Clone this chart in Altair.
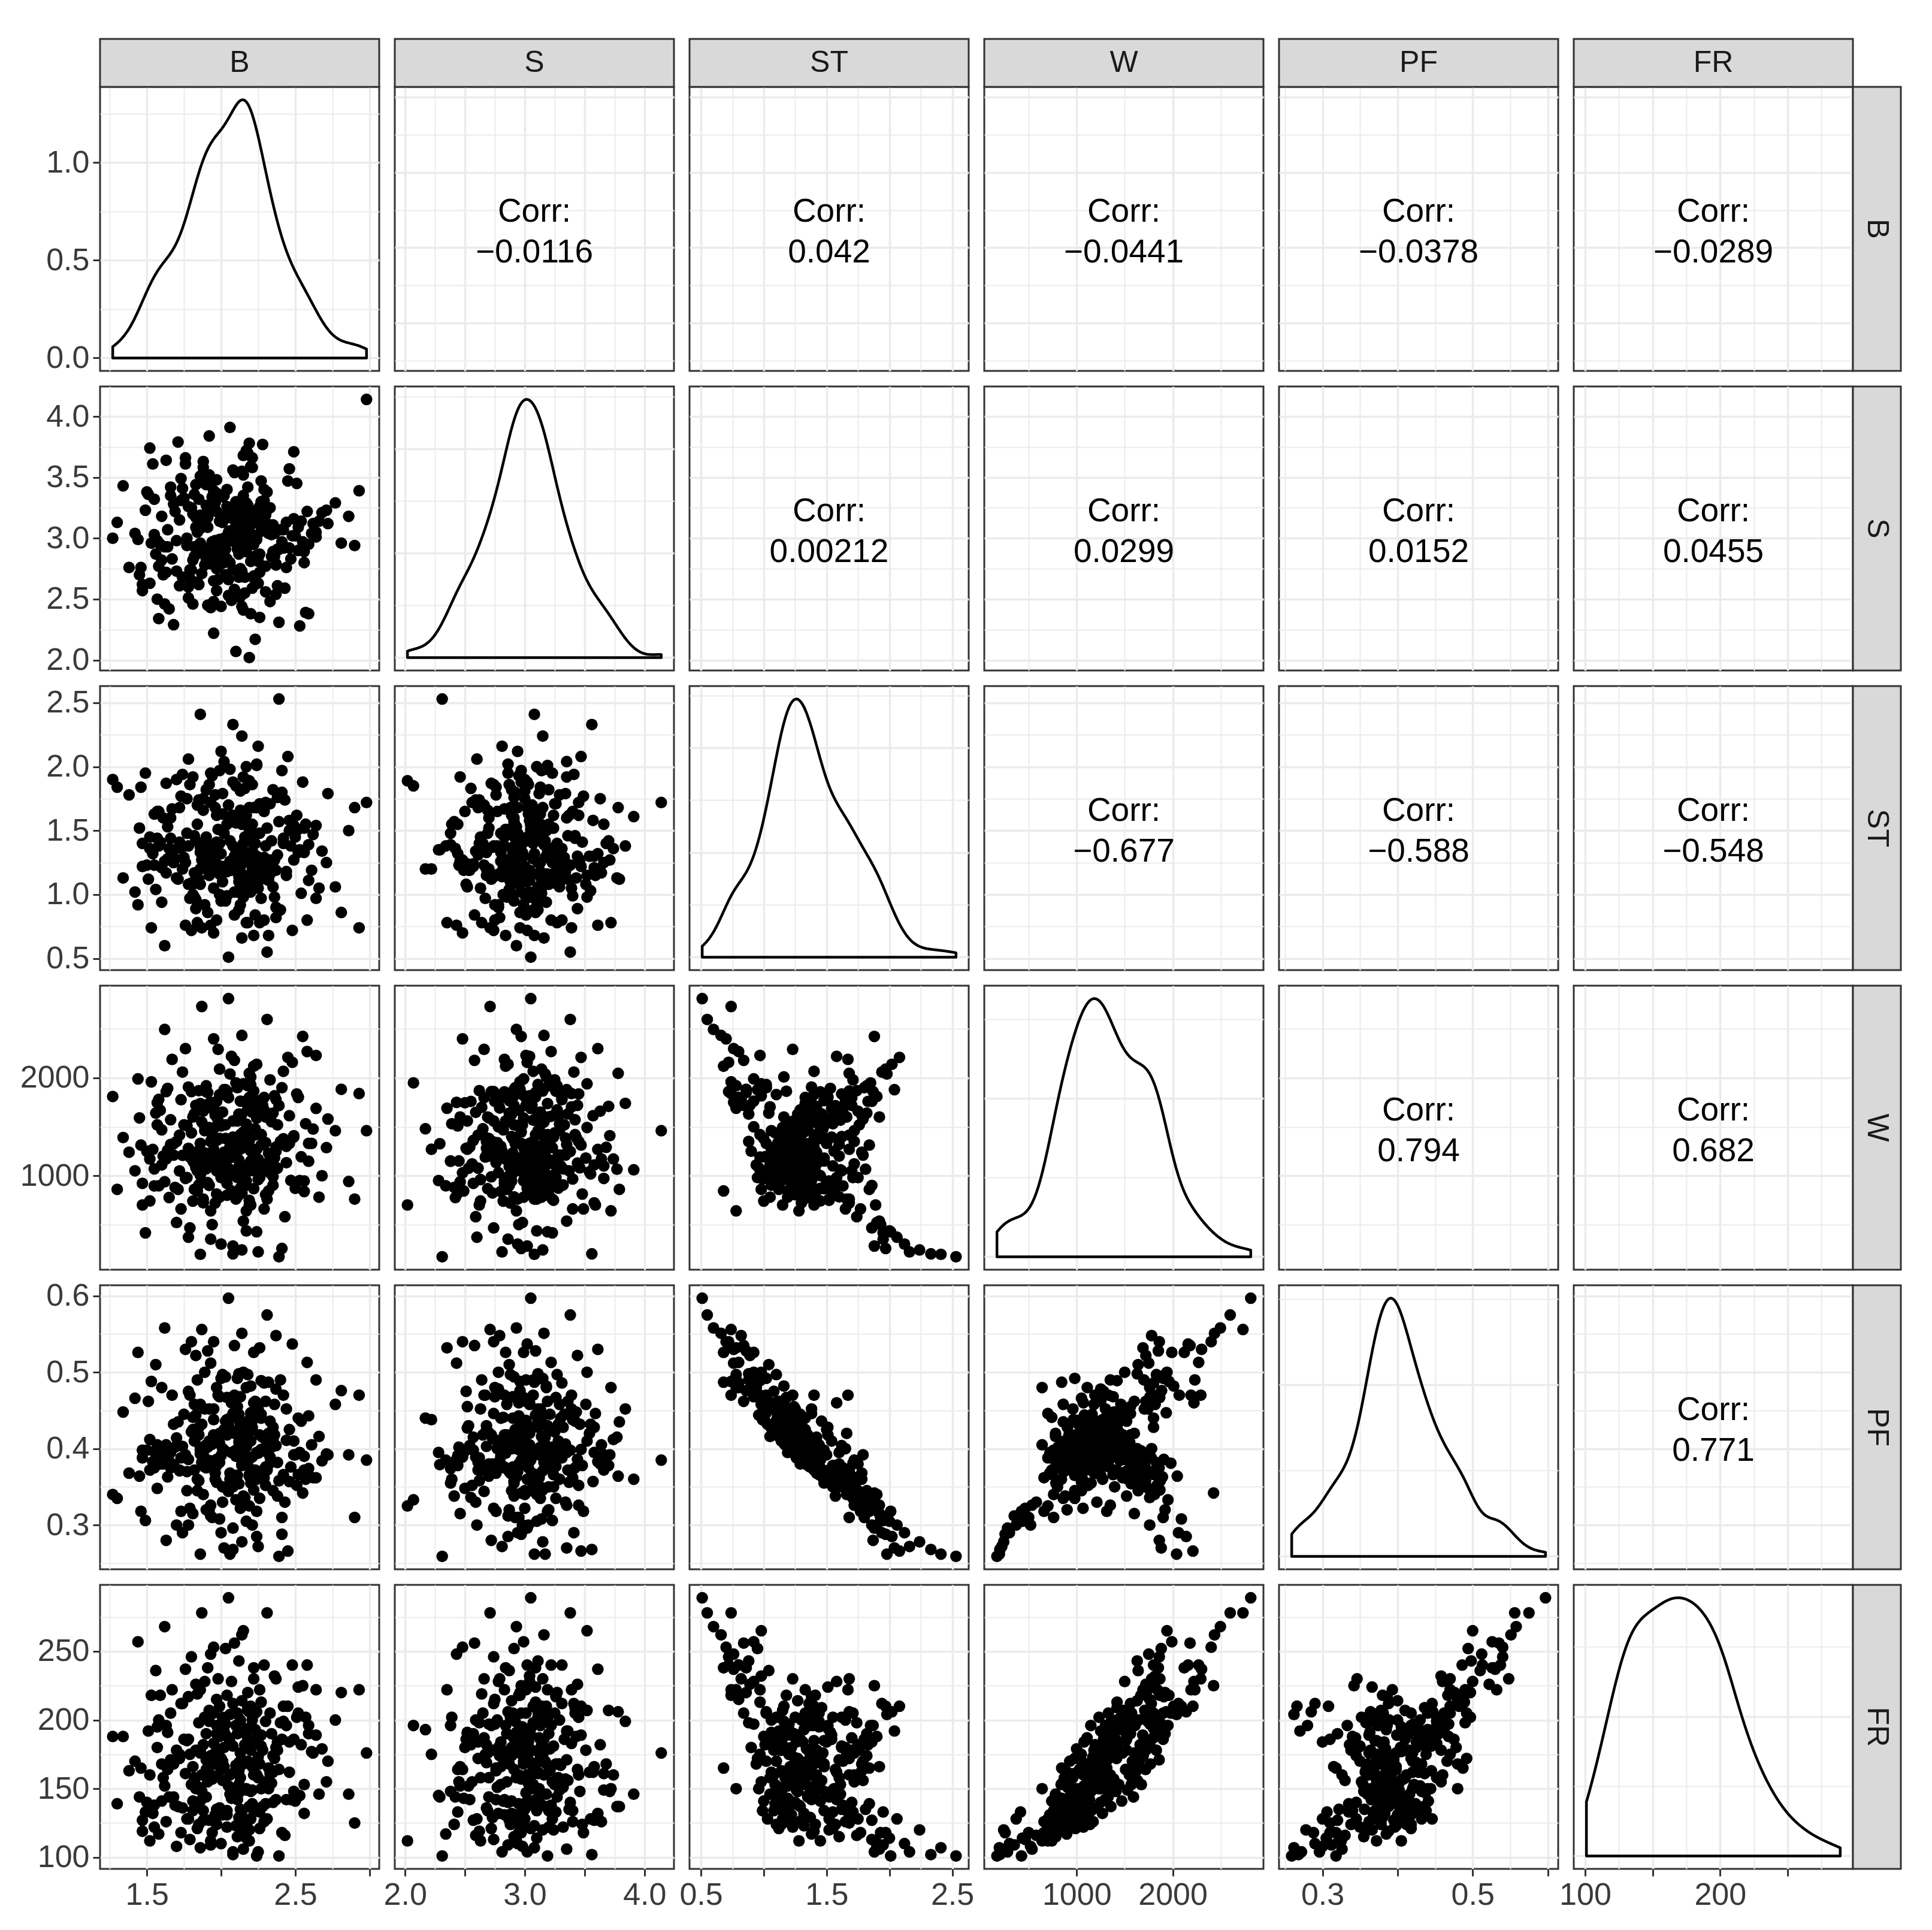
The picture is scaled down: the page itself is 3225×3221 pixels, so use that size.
import json
import math
import altair as alt
import numpy as np
import pandas as pd

VARS = ["B", "S", "ST", "W", "PF", "FR"]

B = [2.05, 1.87, 2.31, 1.62, 2.14, 1.95, 2.48, 2.22, 1.76, 2.58,
     1.53, 2.18, 2.09, 1.91, 2.37, 1.83, 2.26, 2.64, 2.11, 2.01,
     2.20, 1.98, 1.44, 2.15, 2.03, 2.42, 1.80, 2.29, 1.93, 2.12,
     1.67, 2.07, 2.33, 1.85, 2.19, 2.55, 1.99, 2.24, 1.74, 2.10,
     1.27, 2.16, 1.90, 2.41, 2.02, 1.58, 2.28, 1.88, 2.13, 2.72,
     1.96, 2.35, 1.81, 2.21, 2.06, 1.63, 2.45, 1.94, 2.17, 1.78,
     2.00, 1.49, 2.25, 2.08, 1.86, 2.39, 2.14, 1.70, 2.93, 1.97,
     2.23, 1.84, 2.04, 2.52, 1.92, 2.19, 1.56, 2.30, 2.11, 1.75,
     1.89, 2.27, 2.09, 1.34, 2.16, 2.44, 1.95, 2.02, 1.68, 2.36,
     2.12, 1.82, 2.21, 1.97, 2.61, 2.06, 1.51, 2.33, 1.91, 2.18,
     1.64, 2.03, 2.27, 1.86, 2.15, 1.98, 2.49, 1.72, 2.24, 2.08,
     2.38, 1.93, 1.46, 2.10, 2.20, 1.84, 2.56, 2.01, 2.13, 1.79,
     1.60, 2.22, 2.05, 1.90, 2.32, 2.17, 1.81, 2.66, 1.99, 2.07,
     2.14, 1.55, 2.29, 1.96, 2.04, 2.43, 1.88, 2.19, 1.73, 2.90,
     1.30, 2.25, 2.12, 1.85, 2.35, 2.09, 1.94, 2.53, 1.69, 2.16,
     2.02, 1.83, 2.46, 2.21, 1.61, 2.11, 1.97, 2.30, 1.77, 2.06,
     2.26, 1.92, 2.15, 1.42, 2.00, 2.37, 1.86, 2.59, 2.13, 1.95,
     1.57, 2.18, 2.08, 1.89, 2.23, 2.77, 1.99, 2.40, 1.71, 2.04,
     2.10, 1.47, 2.31, 1.93, 2.20, 1.82, 2.50, 2.14, 1.66, 2.98,
     1.38, 2.27, 2.03, 1.87, 2.12, 2.34, 1.78, 2.86, 2.17, 1.52,
     2.08, 1.93, 2.24, 1.79, 2.15, 2.41, 1.88, 1.52, 2.19, 1.65,
     2.11, 2.30, 1.97, 2.56, 1.84, 2.22, 2.13, 1.58, 2.35, 1.47,
     1.91, 2.17, 2.47, 2.04, 1.76, 2.26, 2.68, 1.86, 2.14, 2.33,
     1.99, 1.72, 2.21, 1.55, 2.38, 1.83, 2.12, 1.95, 2.28, 1.62,
     2.18, 2.01, 1.90, 2.44, 2.59, 1.81, 2.25, 1.63, 1.96, 2.54,
     1.74, 2.10, 2.32, 1.89, 1.50, 2.20, 1.54, 2.13, 2.71, 2.37,
     2.06, 1.85, 2.27, 1.68, 1.70, 2.19, 2.42, 1.94, 2.49, 2.23,
     1.80, 2.15, 1.60, 2.62, 1.92, 2.30, 2.00, 1.77, 2.17, 2.57,
     1.87, 2.34, 2.12, 1.66, 2.24, 1.45, 1.97, 2.46, 2.14, 1.82,
     2.21, 2.01, 1.59, 2.29, 2.64, 1.93, 2.18, 2.39, 1.86, 1.57,
     2.26, 1.73, 2.05, 2.52, 1.99, 2.51, 1.90, 2.22, 1.64, 1.78,
     2.13, 2.36, 1.95, 2.81, 2.20]

S = [3.05, 2.71, 3.38, 2.93, 3.16, 2.48, 3.02, 2.84, 3.61, 3.22,
     2.96, 3.27, 2.58, 3.09, 2.79, 3.44, 2.35, 3.01, 3.13, 2.88,
     3.18, 2.66, 2.99, 3.52, 2.91, 3.07, 2.74, 3.31, 2.43, 3.11,
     2.83, 3.04, 3.25, 2.62, 3.78, 2.97, 3.14, 2.86, 3.41, 2.07,
     3.00, 2.55, 3.20, 2.92, 3.35, 2.77, 3.06, 3.63, 2.69, 3.12,
     3.29, 2.89, 2.46, 3.03, 3.17, 2.72, 3.47, 2.95, 3.10, 2.60,
     2.94, 3.23, 2.81, 3.56, 3.08, 2.31, 3.15, 2.98, 3.39, 2.75,
     3.01, 2.64, 3.26, 2.90, 3.84, 3.05, 2.87, 3.19, 2.52, 3.33,
     2.78, 3.09, 2.97, 3.43, 2.68, 3.13, 2.22, 3.00, 3.28, 2.85,
     3.21, 2.93, 3.58, 2.57, 3.04, 2.80, 3.36, 3.11, 2.45, 2.99,
     3.07, 2.70, 3.30, 2.96, 3.68, 2.84, 3.16, 2.61, 3.02, 3.24,
     2.91, 3.45, 2.76, 3.12, 2.38, 3.06, 2.89, 3.34, 3.00, 2.67,
     3.18, 2.95, 2.53, 3.27, 3.08, 3.72, 2.82, 3.14, 2.99, 2.49,
     2.73, 3.03, 3.40, 2.88, 3.20, 2.59, 3.10, 2.02, 3.49, 2.94,
     3.13, 2.63, 3.01, 3.32, 2.86, 3.54, 2.97, 2.28, 3.22, 3.05,
     2.80, 3.17, 2.92, 3.66, 2.70, 3.09, 3.37, 2.56, 3.00, 3.91,
     3.26, 2.87, 2.41, 3.04, 3.15, 2.78, 3.51, 2.95, 3.19, 2.65,
     2.98, 3.42, 2.74, 3.11, 2.17, 3.29, 2.90, 3.07, 3.79, 2.83,
     3.08, 2.62, 3.23, 2.93, 3.59, 2.85, 3.02, 2.44, 3.35, 4.14,
     2.76, 3.14, 2.96, 3.46, 2.68, 3.03, 2.51, 3.18, 2.89, 3.74,
     3.02, 2.86, 3.19, 2.74, 3.35, 2.97, 3.58, 2.63, 3.24, 2.42,
     2.91, 3.13, 3.48, 2.80, 3.05, 2.69, 3.28, 2.34, 3.11, 2.57,
     3.17, 2.99, 2.83, 3.40, 3.66, 2.72, 3.21, 2.89, 3.55, 2.48,
     2.78, 3.15, 2.95, 3.32, 2.61, 3.09, 2.87, 3.26, 3.77, 2.46,
     3.12, 2.93, 3.44, 2.76, 2.38, 3.20, 2.84, 3.64, 2.98, 3.14,
     2.68, 3.30, 3.04, 2.90, 3.38, 2.81, 3.61, 2.52, 3.23, 2.54,
     3.06, 2.88, 3.47, 2.29, 2.73, 3.18, 2.92, 3.34, 3.71, 2.65,
     3.25, 2.97, 2.82, 3.12, 3.52, 2.77, 2.44, 2.94, 3.29, 2.39,
     3.16, 2.85, 3.07, 3.42, 2.99, 2.70, 3.22, 3.57, 2.89, 3.36,
     2.59, 3.13, 2.95, 3.27, 3.05, 2.79, 3.70, 2.91, 3.19, 2.50,
     2.87, 3.31, 2.66, 3.09, 2.98, 3.45, 2.83, 3.15, 2.93, 3.26,
     2.75, 3.04, 3.39, 2.96, 3.11]

ST = [0.51, 0.74, 0.55, 0.60, 0.66, 0.70, 0.72, 0.68, 0.76, 0.80,
      0.74, 0.78, 0.84, 0.86, 0.82, 0.89, 0.78, 0.97, 1.02, 1.10,
      1.16, 1.23, 0.92, 0.98, 0.95, 1.40, 0.72, 0.80, 0.76, 0.88,
      1.67, 1.58, 1.71, 1.74, 1.68, 1.88, 1.97, 2.02, 1.94, 1.85,
      1.90, 1.83, 1.82, 1.80, 2.04, 1.65, 1.70, 1.75, 1.66, 1.79,
      1.78, 1.82, 1.92, 1.86, 1.98, 1.87, 2.08, 1.93, 2.00, 2.06,
      2.12, 1.95, 2.16, 2.33, 2.41, 2.53, 2.24, 1.90, 0.74, 0.80,
      0.84, 0.78, 1.18, 1.33, 1.38, 1.51, 1.04, 1.16, 1.24, 1.29,
      0.92, 0.97, 1.02, 1.13, 1.15, 1.18, 1.20, 1.22, 1.25, 1.27,
      1.14, 1.17, 1.21, 1.24, 1.19, 1.26, 1.12, 1.16, 1.23, 1.10,
      1.28, 1.20, 1.15, 1.37, 1.40, 1.51, 1.54, 1.68, 1.68, 1.62,
      1.76, 1.72, 1.84, 1.56, 1.48, 1.70, 1.52, 1.79, 1.81, 0.97,
      0.94, 1.08, 1.19, 1.40, 0.68, 0.78, 1.00, 1.05, 1.19, 1.19,
      1.37, 1.63, 1.65, 1.68, 1.55, 1.74, 1.66, 1.89, 1.77, 1.68,
      1.84, 1.05, 1.10, 1.12, 1.25, 1.30, 1.33, 1.35, 1.28, 1.45,
      1.48, 1.42, 1.50, 1.55, 1.60, 1.58, 1.62, 1.72, 1.75, 1.61,
      1.71, 1.86, 1.57, 1.02, 0.95, 0.90, 1.08, 1.11, 1.30, 1.35,
      1.44, 1.46, 1.38, 1.25, 1.20, 1.06, 1.00, 0.88, 1.12, 1.22,
      1.32, 1.40, 1.52, 1.28, 1.15, 0.98, 1.45, 1.55, 1.60, 1.72,
      1.78, 1.12, 1.18, 1.27, 1.33, 1.42, 1.08, 1.50, 1.62, 1.36,
      1.88, 1.95, 2.01, 1.86, 1.92, 1.97, 1.30, 1.45, 1.52, 1.36,
      1.60, 1.25, 1.41, 1.33, 1.55, 1.48, 1.22, 1.38, 1.06, 1.22,
      1.29, 1.14, 1.38, 0.99, 1.25, 1.12, 1.34, 1.20, 1.03, 1.27,
      1.16, 1.41, 1.09, 1.23, 1.31, 0.96, 1.18, 1.36, 1.13, 1.26,
      1.05, 1.21, 1.30, 1.15, 1.39, 1.08, 1.24, 1.17, 1.33, 1.01,
      1.20, 1.28, 1.11, 1.37, 1.23, 1.14, 1.32, 1.06, 1.25, 1.19,
      1.42, 1.10, 1.22, 1.35, 1.13, 1.29, 1.44, 1.18, 1.27, 1.40,
      1.09, 1.32, 1.21, 1.47, 1.15, 1.38, 1.32, 1.48, 1.26, 1.55,
      1.39, 1.22, 1.61, 1.44, 1.30, 1.52, 1.36, 1.58, 1.27, 1.46,
      1.34, 1.63, 1.41, 1.29, 1.54, 1.37, 1.42, 1.57, 1.33, 1.65,
      1.48, 1.36, 1.70, 1.51, 1.40, 1.62, 1.45, 1.68, 1.53, 1.38,
      0.92, 0.98, 1.05, 0.86, 1.02]

W = [2812, 2731, 2598, 2496, 2435, 2400, 2160, 2120, 2300, 2270,
     1960, 1920, 2180, 1850, 1780, 1720, 1690, 2230, 1900, 1830,
     2010, 2292, 1990, 1940, 1880, 2068, 1860, 1800, 1750, 1630,
     2190, 2221, 1980, 1870, 2047, 2425, 2090, 2140, 2060, 1950,
     1810, 1760, 1920, 1900, 1880, 1780, 1720, 1660, 1600, 1580,
     1620, 1640, 1600, 1760, 2040, 1860, 2210, 500, 435, 370,
     300, 415, 220, 200, 195, 170, 240, 520, 1840, 1760,
     1720, 1700, 1864, 1800, 1740, 1800, 1640, 1600, 1560, 1520,
     1500, 1420, 1330, 1390, 1350, 1300, 1270, 1240, 1210, 1180,
     1160, 1130, 1110, 1360, 1330, 1300, 1250, 1200, 1150, 1290,
     1260, 1380, 1100, 1330, 1290, 1560, 1395, 1415, 1270, 1395,
     1520, 1350, 1313, 1250, 1150, 1050, 945, 1210, 1066, 1190,
     1110, 1070, 1075, 1070, 844, 640, 740, 780, 780, 844,
     823, 895, 660, 720, 800, 580, 760, 700, 660, 760,
     860, 960, 1010, 905, 990, 1040, 1120, 950, 880, 1000,
     1180, 1240, 1330, 1100, 1200, 980, 1050, 1120, 980, 1060,
     980, 900, 880, 1050, 980, 1250, 1180, 1330, 1420, 1480,
     1520, 1420, 1560, 1460, 1480, 1460, 1380, 1350, 860, 920,
     760, 700, 760, 640, 700, 860, 870, 820, 1320, 1460,
     1240, 1420, 1520, 1080, 1280, 1120, 1280, 940, 1400, 1170,
     280, 350, 425, 465, 535, 255, 722, 741, 748, 776,
     783, 806, 812, 838, 841, 867, 872, 896, 903, 921,
     928, 947, 951, 966, 972, 988, 999, 1003, 1018, 1029,
     1031, 1048, 1052, 1069, 1077, 1081, 1093, 1098, 1066, 937,
     1108, 1112, 1129, 1133, 1147, 1152, 1168, 1171, 1189, 1193,
     1208, 1211, 1229, 1233, 1248, 1252, 1268, 1271, 1287, 1294,
     1183, 1137, 1313, 1327, 1349, 1356, 1378, 1386, 1409, 1417,
     1438, 1446, 1469, 1477, 1493, 1338, 1509, 1512, 1528, 1531,
     1549, 1552, 1568, 1572, 1589, 1591, 1608, 1613, 1629, 1632,
     1648, 1651, 1669, 1673, 1688, 1692, 1709, 1717, 1738, 1746,
     1768, 1777, 1798, 1806, 1829, 1836, 1858, 1866, 1893, 1907,
     1763, 1817, 1704, 1884, 1932]

PF = [0.597, 0.556, 0.575, 0.558, 0.551, 0.540, 0.537, 0.526, 0.530, 0.513,
      0.488, 0.497, 0.535, 0.528, 0.548, 0.522, 0.532, 0.490, 0.492, 0.497,
      0.482, 0.470, 0.526, 0.500, 0.494, 0.470, 0.540, 0.486, 0.512, 0.498,
      0.470, 0.460, 0.381, 0.358, 0.364, 0.342, 0.308, 0.285, 0.290, 0.333,
      0.340, 0.336, 0.320, 0.310, 0.270, 0.400, 0.364, 0.380, 0.420, 0.392,
      0.360, 0.345, 0.315, 0.300, 0.262, 0.280, 0.266, 0.310, 0.305, 0.300,
      0.290, 0.306, 0.272, 0.268, 0.262, 0.259, 0.278, 0.300, 0.470, 0.480,
      0.462, 0.490, 0.467, 0.440, 0.452, 0.428, 0.510, 0.462, 0.455, 0.445,
      0.500, 0.489, 0.470, 0.448, 0.430, 0.452, 0.438, 0.425, 0.432, 0.418,
      0.445, 0.410, 0.428, 0.415, 0.405, 0.440, 0.462, 0.436, 0.402, 0.420,
      0.398, 0.421, 0.440, 0.398, 0.390, 0.418, 0.410, 0.372, 0.360, 0.350,
      0.338, 0.326, 0.318, 0.365, 0.355, 0.345, 0.372, 0.330, 0.322, 0.470,
      0.480, 0.460, 0.430, 0.405, 0.487, 0.480, 0.441, 0.416, 0.420, 0.395,
      0.380, 0.375, 0.362, 0.368, 0.350, 0.330, 0.340, 0.325, 0.318, 0.310,
      0.335, 0.452, 0.437, 0.428, 0.412, 0.420, 0.408, 0.395, 0.402, 0.385,
      0.398, 0.415, 0.425, 0.372, 0.380, 0.365, 0.356, 0.352, 0.345, 0.360,
      0.335, 0.320, 0.338, 0.466, 0.492, 0.478, 0.458, 0.443, 0.430, 0.418,
      0.405, 0.436, 0.446, 0.452, 0.440, 0.458, 0.468, 0.490, 0.435, 0.418,
      0.398, 0.388, 0.372, 0.405, 0.446, 0.458, 0.392, 0.378, 0.395, 0.385,
      0.368, 0.445, 0.436, 0.432, 0.425, 0.402, 0.475, 0.392, 0.404, 0.412,
      0.296, 0.312, 0.318, 0.322, 0.326, 0.288, 0.395, 0.372, 0.366, 0.384,
      0.355, 0.402, 0.378, 0.390, 0.360, 0.370, 0.410, 0.385, 0.428, 0.398,
      0.380, 0.412, 0.376, 0.438, 0.392, 0.418, 0.384, 0.402, 0.432, 0.389,
      0.407, 0.371, 0.424, 0.396, 0.382, 0.444, 0.409, 0.377, 0.415, 0.388,
      0.430, 0.400, 0.386, 0.411, 0.374, 0.425, 0.394, 0.405, 0.380, 0.436,
      0.403, 0.390, 0.420, 0.376, 0.398, 0.410, 0.383, 0.427, 0.393, 0.404,
      0.368, 0.418, 0.399, 0.379, 0.414, 0.388, 0.366, 0.406, 0.392, 0.372,
      0.422, 0.385, 0.401, 0.362, 0.410, 0.376, 0.391, 0.370, 0.402, 0.360,
      0.382, 0.408, 0.354, 0.375, 0.395, 0.364, 0.386, 0.357, 0.400, 0.372,
      0.389, 0.350, 0.380, 0.397, 0.362, 0.384, 0.378, 0.358, 0.393, 0.348,
      0.370, 0.388, 0.344, 0.366, 0.382, 0.352, 0.375, 0.346, 0.363, 0.386,
      0.468, 0.458, 0.452, 0.476, 0.447]

FR = [289, 278, 278, 268, 262, 253, 240, 238, 237, 240,
      218, 220, 256, 238, 230, 226, 222, 222, 205, 202,
      210, 230, 257, 265, 252, 210, 246, 240, 248, 243,
      222, 228, 205, 198, 206, 225, 210, 206, 212, 196,
      188, 182, 190, 186, 192, 200, 178, 182, 176, 170,
      168, 174, 166, 184, 204, 196, 210, 118, 114, 128,
      110, 133, 104, 102, 107, 101, 120, 108, 222, 215,
      205, 219, 218, 205, 199, 194, 236, 199, 190, 186,
      228, 213, 205, 188, 182, 196, 175, 180, 168, 172,
      163, 158, 166, 190, 177, 184, 192, 161, 155, 170,
      164, 197, 150, 176, 168, 196, 186, 172, 160, 181,
      178, 160, 165, 150, 148, 140, 132, 156, 135, 175,
      168, 160, 152, 144, 165, 150, 141, 146, 136, 143,
      129, 138, 126, 131, 122, 116, 134, 112, 118, 125,
      139, 158, 147, 151, 140, 162, 157, 145, 138, 150,
      166, 178, 184, 149, 158, 142, 135, 155, 128, 146,
      133, 127, 124, 170, 172, 180, 178, 190, 200, 205,
      195, 209, 212, 202, 193, 200, 188, 198, 137, 131,
      123, 119, 128, 112, 128, 155, 141, 133, 171, 176,
      163, 181, 189, 148, 169, 154, 186, 146, 180, 160,
      104, 109, 101, 113, 106, 118, 127, 112, 120, 144,
      115, 139, 124, 153, 121, 134, 158, 117, 162, 127,
      170, 124, 142, 134, 161, 121, 179, 141, 128, 164,
      132, 175, 139, 122, 184, 150, 129, 168, 137, 152,
      187, 131, 164, 142, 196, 134, 173, 126, 159, 182,
      136, 167, 150, 202, 140, 178, 132, 191, 155, 142,
      160, 124, 189, 144, 178, 137, 199, 157, 148, 185,
      153, 193, 141, 176, 207, 151, 164, 185, 149, 202,
      160, 190, 153, 205, 168, 144, 196, 162, 214, 156,
      200, 170, 218, 153, 189, 174, 207, 164, 222, 180,
      168, 212, 187, 224, 178, 202, 171, 230, 191, 217,
      197, 232, 183, 220, 206]

UPPER_ROW = ["B", "B", "B", "B", "B", "S", "S", "S", "S", "ST", "ST", "ST", "W", "W", "PF"]
UPPER_COL = ["S", "ST", "W", "PF", "FR", "ST", "W", "PF", "FR", "W", "PF", "FR", "PF", "FR", "FR"]
UPPER_CORR = ["\u22120.0116", "0.042", "\u22120.0441", "\u22120.0378", "\u22120.0289",
              "0.00212", "0.0299", "0.0152", "0.0455",
              "\u22120.677", "\u22120.588", "\u22120.548",
              "0.794", "0.682", "0.771"]

MAJOR = {"B": [1.5, 2.0, 2.5, 3.0], "S": [2.0, 2.5, 3.0, 3.5, 4.0],
         "ST": [0.5, 1.0, 1.5, 2.0, 2.5], "W": [1000, 2000],
         "PF": [0.3, 0.4, 0.5, 0.6], "FR": [100, 150, 200, 250]}
MINOR = {"B": [1.25, 1.75, 2.25, 2.75], "S": [2.25, 2.75, 3.25, 3.75],
         "ST": [0.75, 1.25, 1.75, 2.25], "W": [500, 1500, 2500],
         "PF": [0.25, 0.35, 0.45, 0.55], "FR": [125, 175, 225, 275]}
XLAB = {"B": [1.5, 2.5], "S": [2.0, 3.0, 4.0], "ST": [0.5, 1.5, 2.5],
        "W": [1000, 2000], "PF": [0.3, 0.5], "FR": [100, 200]}
FMT = {"B": ".1f", "S": ".1f", "ST": ".1f", "W": "d", "PF": ".1f", "FR": "d"}

# ---------------- layout constants ----------------
PW, PH = 466, 474
GAP = 26
STRIP = 80
FONT = "Liberation Sans"

df = pd.DataFrame({"B": B, "S": S, "ST": ST, "W": W, "PF": PF, "FR": FR})
cols = {"B": B, "S": S, "ST": ST, "W": W, "PF": PF, "FR": FR}


def expand(lo, hi):
    r = hi - lo
    return [float(lo - 0.05 * r), float(hi + 0.05 * r)]


DOM = {v: expand(min(cols[v]), max(cols[v])) for v in VARS}


def bw_nrd0(a):
    a = np.asarray(a, dtype=float)
    sd = a.std(ddof=1)
    q75, q25 = np.percentile(a, [75, 25])
    lo = min(sd, (q75 - q25) / 1.34)
    return float(0.9 * lo * len(a) ** -0.2)


BW = {v: bw_nrd0(cols[v]) for v in VARS}


def kde_max(a, bw):
    a = np.asarray(a, dtype=float)
    g = np.linspace(a.min(), a.max(), 400)
    d = np.exp(-0.5 * ((g[:, None] - a[None, :]) / bw) ** 2).sum(1)
    d = d / (len(a) * bw * math.sqrt(2 * math.pi))
    return float(d.max())


def nice_breaks(mx, top):
    target = mx / 3.0
    mag = 10 ** math.floor(math.log10(target))
    step = 10 * mag
    for m in (1, 2, 2.5, 5, 10):
        if m * mag >= target:
            step = m * mag
            break
    majors, minors = [], []
    k = 0
    while k * step <= top:
        majors.append(round(k * step, 12))
        if (k + 0.5) * step <= top:
            minors.append(round((k + 0.5) * step, 12))
        k += 1
    return majors, minors


DENS_DOM, DENS_GRID = {}, {}
for v in VARS:
    mx = kde_max(cols[v], BW[v])
    DENS_DOM[v] = [-0.05 * mx, 1.05 * mx]
    DENS_GRID[v] = nice_breaks(mx, 1.05 * mx)


def make_axis(major, minor, labeled, fmt, show):
    allv = sorted(list(major) + list(minor))
    test = "indexof(%s, datum.value) >= 0" % json.dumps(list(major))
    kw = dict(values=allv, grid=True, domain=False, gridColor="#EBEBEB",
              gridWidth={"condition": {"test": test, "value": 3.5}, "value": 2},
              labelOverlap=False, labelFlush=False)
    if show:
        kw.update(ticks=True, labels=True, format=fmt,
                  tickOpacity={"condition": {"test": test, "value": 1}, "value": 0},
                  labelExpr="indexof(%s, datum.value) >= 0 ? datum.label : ''" % json.dumps(list(labeled)))
    else:
        kw.update(ticks=False, labels=False)
    return alt.Axis(**kw)


def make_panel(i, j):
    vx, vy = VARS[j], VARS[i]
    xenc = alt.X(f"{vx}:Q", title=None,
                 scale=alt.Scale(domain=DOM[vx], nice=False, zero=False),
                 axis=make_axis(MAJOR[vx], MINOR[vx], XLAB[vx], FMT[vx], i == 5))
    layers = []
    if i == j:
        dmaj, dmin = DENS_GRID[vx]
        yenc = alt.Y("density:Q", title=None,
                     scale=alt.Scale(domain=DENS_DOM[vx], nice=False, zero=False),
                     axis=make_axis(dmaj, dmin, dmaj, ".1f", j == 0))
        main = (alt.Chart(df)
                .transform_density(vx, as_=[vx, "density"], bandwidth=BW[vx])
                .mark_area(fillOpacity=0, stroke="black", strokeWidth=4.5, strokeJoin="round")
                .encode(x=xenc, y=yenc))
        layers.append(main)
    else:
        yenc = alt.Y(f"{vy}:Q", title=None,
                     scale=alt.Scale(domain=DOM[vy], nice=False, zero=False),
                     axis=make_axis(MAJOR[vy], MINOR[vy], MAJOR[vy], FMT[vy], j == 0))
        if i > j:
            main = alt.Chart(df).mark_circle(size=380, color="black", opacity=1).encode(x=xenc, y=yenc)
            layers.append(main)
        else:
            main = alt.Chart(df).mark_circle(size=10, opacity=0).encode(x=xenc, y=yenc)
            layers.append(main)
            k = [n for n in range(len(UPPER_ROW)) if UPPER_ROW[n] == vy and UPPER_COL[n] == vx][0]
            txt = (alt.Chart(alt.Data(values=[{"t": "Corr:\n" + UPPER_CORR[k]}]))
                   .mark_text(fontSize=55, lineHeight=68, lineBreak="\n", color="black",
                              align="center", baseline="middle", font=FONT)
                   .encode(x=alt.value(PW / 2), y=alt.value(PH / 2 - 29), text="t:N"))
            layers.append(txt)
    if i == 0:
        sd = alt.Data(values=[{"lab": vx}])
        layers.append(alt.Chart(sd).mark_rect(fill="#D9D9D9", stroke="#333333", strokeWidth=3)
                      .encode(x=alt.value(0), x2=alt.value(PW), y=alt.value(-STRIP), y2=alt.value(0)))
        layers.append(alt.Chart(sd).mark_text(fontSize=50, color="#1A1A1A", align="center",
                                              baseline="middle", font=FONT)
                      .encode(x=alt.value(PW / 2), y=alt.value(-STRIP / 2), text="lab:N"))
    if j == 5:
        sd = alt.Data(values=[{"lab": vy}])
        layers.append(alt.Chart(sd).mark_rect(fill="#D9D9D9", stroke="#333333", strokeWidth=3)
                      .encode(x=alt.value(PW), x2=alt.value(PW + STRIP), y=alt.value(0), y2=alt.value(PH)))
        layers.append(alt.Chart(sd).mark_text(fontSize=50, color="#1A1A1A", align="center",
                                              baseline="middle", angle=90, font=FONT)
                      .encode(x=alt.value(PW + STRIP / 2), y=alt.value(PH / 2), text="lab:N"))
    return alt.layer(*layers).properties(width=PW, height=PH)


panels = [make_panel(i, j) for i in range(6) for j in range(6)]

chart = (alt.concat(*panels, columns=6, spacing=GAP, bounds="flush")
         .properties(padding={"left": 23, "top": 54, "right": 5, "bottom": 5})
         .configure(font=FONT)
         .configure_view(stroke="#333333", strokeWidth=3, fill="white")
         .configure_axis(labelFont=FONT, labelFontSize=52, labelColor="#3A3A3A",
                         labelPadding=6, tickColor="#333333", tickWidth=3, tickSize=12))

chart.save("out.html", embed_options={"renderer": "svg", "actions": False})
